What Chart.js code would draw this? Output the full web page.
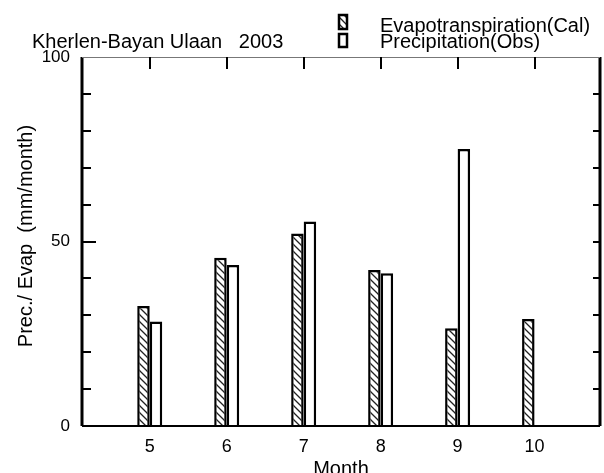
<!DOCTYPE html>
<html>
<head>
<meta charset="utf-8">
<script src="https://cdn.jsdelivr.net/npm/chart.js@4.4.0/dist/chart.umd.min.js"></script>
<style>
  html, body { margin: 0; padding: 0; background: #fff; }
  canvas { display: block; }
</style>
</head>
<body>
<canvas id="chart" width="604" height="473"></canvas>
<script>
// values (mm/month)
const months = [5, 6, 7, 8, 9, 10];
const evapCal = [32.5, 45.6, 52.2, 42.3, 26.5, 29.0];
const precObs = [28.3, 43.6, 55.4, 41.4, 75.1, null];
const yTicks = [0, 10, 20, 30, 40, 50, 60, 70, 80, 90, 100];
const yLabels = [0, 50, 100];

const FONT = '"Liberation Sans", Arial, sans-serif';

function hatch() {
    const c = document.createElement('canvas');
    c.width = 7; c.height = 7;
    const g = c.getContext('2d');
    g.fillStyle = '#fff';
    g.fillRect(0, 0, 7, 7);
    g.strokeStyle = '#222';
    g.lineWidth = 1.3;
    g.beginPath();
    g.moveTo(-1, -1); g.lineTo(8, 8);
    g.moveTo(-1, 6); g.lineTo(1, 8);
    g.moveTo(6, -1); g.lineTo(8, 1);
    g.stroke();
    return g.createPattern(c, 'repeat');
}
const hatchFill = hatch();

const frame = {
    id: 'frame',
    afterDraw(chart) {
        const ctx = chart.ctx;
        const a = chart.chartArea;
        const x = chart.scales.x, y = chart.scales.y;
        ctx.save();
        // borders
        ctx.strokeStyle = '#000';
        ctx.lineWidth = 3;
        ctx.beginPath();
        ctx.moveTo(a.left, a.top); ctx.lineTo(a.left, a.bottom);
        ctx.moveTo(a.right, a.top); ctx.lineTo(a.right, a.bottom);
        ctx.stroke();
        ctx.lineWidth = 2;
        ctx.beginPath();
        ctx.moveTo(a.left, a.bottom); ctx.lineTo(a.right, a.bottom);
        ctx.stroke();
        ctx.strokeStyle = '#777';
        ctx.lineWidth = 1;
        ctx.beginPath();
        ctx.moveTo(a.left, a.top + 0.5); ctx.lineTo(a.right, a.top + 0.5);
        ctx.stroke();
        // inward ticks
        ctx.strokeStyle = '#000';
        ctx.lineWidth = 2;
        ctx.beginPath();
        yTicks.forEach(v => {
            const py = Math.round(y.getPixelForValue(v));
            if (v === 0 || v === 100) return;
            const len = v === 50 ? 14 : 9;
            ctx.moveTo(a.left, py); ctx.lineTo(a.left + len, py);
            ctx.moveTo(a.right, py); ctx.lineTo(a.right - 7, py);
        });
        months.forEach(m => {
            const px = Math.round(x.getPixelForValue(m));
            ctx.moveTo(px, a.top); ctx.lineTo(px, a.top + 12);
        });
        ctx.stroke();

        // title
        ctx.fillStyle = '#000';
        ctx.font = '20px ' + FONT;
        ctx.textBaseline = 'alphabetic';
        ctx.textAlign = 'left';
        ctx.fillText('Kherlen-Bayan Ulaan   2003', 32, 48);

        // legend
        ctx.lineWidth = 2.5;
        ctx.fillStyle = hatchFill;
        ctx.fillRect(339, 15, 8, 14);
        ctx.strokeRect(339, 15, 8, 14);
        ctx.fillStyle = '#fff';
        ctx.fillRect(339, 34, 8, 13);
        ctx.strokeRect(339, 34, 8, 13);
        ctx.fillStyle = '#000';
        ctx.fillText('Evapotranspiration(Cal)', 380, 32);
        ctx.fillText('Precipitation(Obs)', 380, 48);

        // axis titles
        ctx.textAlign = 'center';
        ctx.fillText('Month', (a.left + a.right) / 2, 475);
        ctx.translate(26, 236);
        ctx.rotate(-Math.PI / 2);
        ctx.textBaseline = 'middle';
        ctx.fillText('Prec./ Evap  (mm/month)', 0, 0);
        ctx.restore();
    }
};

new Chart(document.getElementById('chart'), {
    type: 'bar',
    data: {
        datasets: [{
            label: 'Evapotranspiration(Cal)',
            data: months.map((m, i) => ({x: m, y: evapCal[i]})),
            backgroundColor: hatchFill,
            borderColor: '#000',
            borderWidth: 2.5
        }, {
            label: 'Precipitation(Obs)',
            data: months.map((m, i) => ({x: m, y: precObs[i]})),
            backgroundColor: '#fff',
            borderColor: '#000',
            borderWidth: 2.5
        }]
    },
    options: {
        responsive: false,
        animation: false,
        devicePixelRatio: 1,
        categoryPercentage: 0.325,
        barPercentage: 1,
        layout: {padding: {left: 0, top: 57, right: 4, bottom: 0}},
        plugins: {legend: {display: false}, tooltip: {enabled: false}},
        scales: {
            x: {
                type: 'linear',
                min: 4.12,
                max: 10.85,
                offset: false,
                afterBuildTicks: s => { s.ticks = months.map(v => ({value: v})); },
                afterFit: s => { s.height = 47; },
                grid: {display: false, drawTicks: false},
                border: {display: false},
                ticks: {
                    autoSkip: false, maxRotation: 0, padding: 10,
                    color: '#000', font: {family: FONT, size: 18}
                }
            },
            y: {
                min: 0,
                max: 100,
                afterBuildTicks: s => { s.ticks = yTicks.map(v => ({value: v})); },
                afterFit: s => { s.width = 82; },
                grid: {display: false, drawTicks: false},
                border: {display: false},
                ticks: {
                    padding: 12, color: '#000', font: {family: FONT, size: 17},
                    callback: v => yLabels.includes(v) ? String(v) : ''
                }
            }
        }
    },
    plugins: [frame]
});
</script>
</body>
</html>
